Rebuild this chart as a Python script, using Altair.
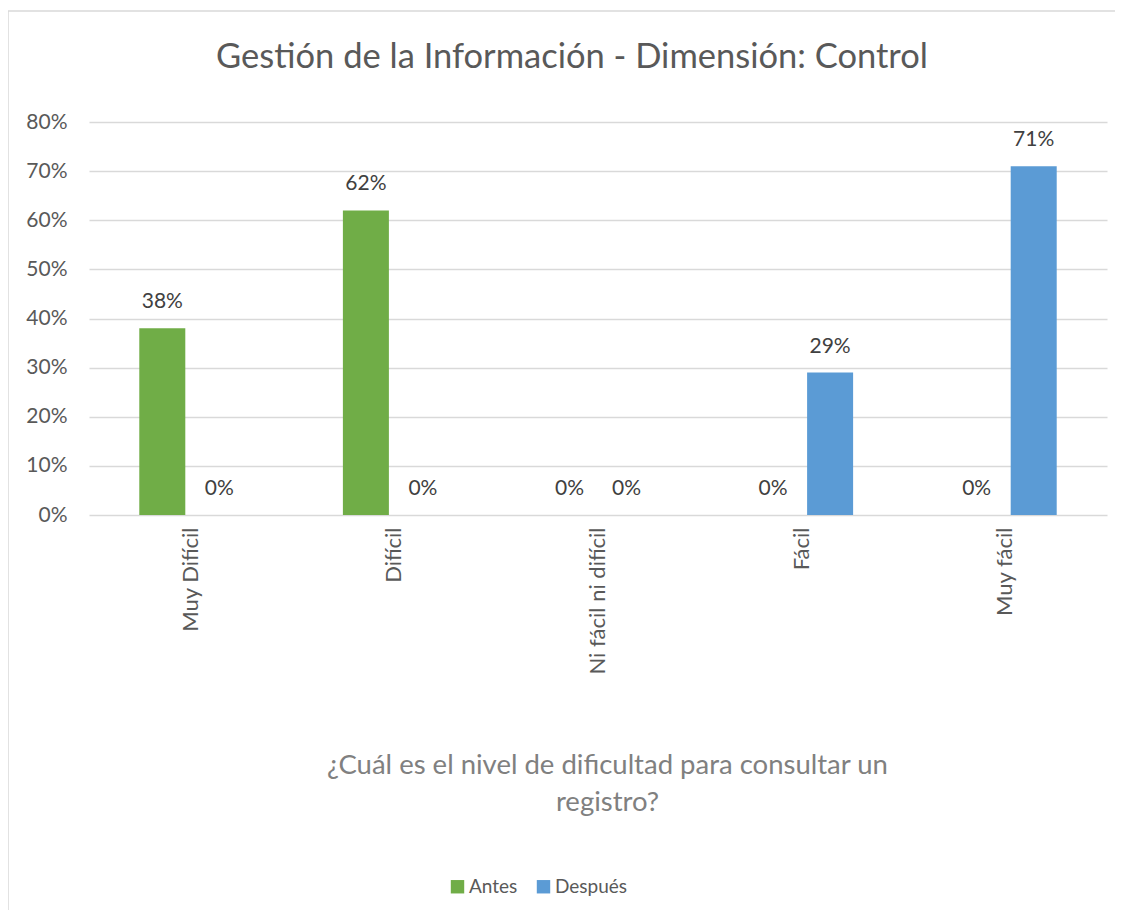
import altair as alt
import pandas as pd

categories = ["Muy Difícil", "Difícil", "Ni fácil ni difícil", "Fácil", "Muy fácil"]
series = ["Antes", "Después"]
antes = [0.38, 0.62, 0.0, 0.0, 0.0]
despues = [0.0, 0.0, 0.0, 0.29, 0.71]
colors = ["#70AD47", "#5B9BD5"]

rows = []
for c, a, d in zip(categories, antes, despues):
    rows.append({"cat": c, "serie": "Antes", "val": a})
    rows.append({"cat": c, "serie": "Después", "val": d})
df = pd.DataFrame(rows)

FONT = "Lato"
W, H = 1018, 393

x = alt.X("cat:N", sort=categories,
          scale=alt.Scale(paddingInner=0, paddingOuter=0),
          axis=alt.Axis(title=["¿Cuál es el nivel de dificultad para consultar un", "registro?"],
                        labelAngle=-90, labelFontSize=22, labelColor="#595959",
                        labelPadding=12, ticks=False, domain=False,
                        titleFontSize=27.5, titleColor="#808080", titleFontWeight="normal",
                        titleX=518, titleAlign="center",
                        titleY=236, titleBaseline="top", titleLineHeight=37,
                        labelFont=FONT, titleFont=FONT))
xoff = alt.XOffset("serie:N", sort=series,
                   scale=alt.Scale(paddingInner=0.193, paddingOuter=0.882))
y = alt.Y("val:Q", scale=alt.Scale(domain=[0, 0.8]),
          axis=alt.Axis(format=".0%", values=[0, 0.1, 0.2, 0.3, 0.4, 0.5, 0.6, 0.7, 0.8],
                        title=None, labelFontSize=21, labelColor="#595959", labelPadding=22,
                        ticks=False, domain=False, gridColor="#D9D9D9", gridWidth=1.5,
                        labelFont=FONT))
color = alt.Color("serie:N", sort=series,
                  scale=alt.Scale(domain=series, range=colors),
                  legend=alt.Legend(title=None, orient="none", direction="horizontal",
                                    legendX=359, legendY=755, symbolType="square",
                                    symbolSize=180, labelFontSize=19, labelColor="#595959",
                                    labelFont=FONT, columnPadding=16, labelOffset=2,
                                    symbolStrokeWidth=0))

base = alt.Chart(df)
bars = base.mark_bar().encode(x=x, xOffset=xoff, y=y, color=color)
labels = base.mark_text(dy=-26, baseline="middle", fontSize=21, color="#404040", font=FONT).encode(
    x=x, xOffset=xoff, y=y,
    text=alt.Text("val:Q", format=".0%"))

frame_df = pd.DataFrame({"a": [0]})
border_top = alt.Chart(frame_df).mark_rule(stroke="#D9D9D9", strokeWidth=1.5).encode(
    x=alt.value(-81), x2=alt.value(1040), y=alt.value(-111))
border_left = alt.Chart(frame_df).mark_rule(stroke="#D9D9D9", strokeWidth=1.5).encode(
    x=alt.value(-81), y=alt.value(-111), y2=alt.value(900))

chart = alt.layer(border_top, border_left, bars, labels).properties(
    width=W, height=H,
    title=alt.TitleParams("Gestión de la Información - Dimensión: Control",
                          fontSize=34.5, color="#595959", font=FONT, fontWeight="normal",
                          offset=-92, dx=-26, frame="group", baseline="alphabetic"),
    autosize=alt.AutoSizeParams(type="none"),
    padding={"left": 81, "top": 114, "right": 8, "bottom": 395},
).configure_view(stroke=None)

chart.save("out.html", embed_options={"renderer": "svg", "actions": False})
